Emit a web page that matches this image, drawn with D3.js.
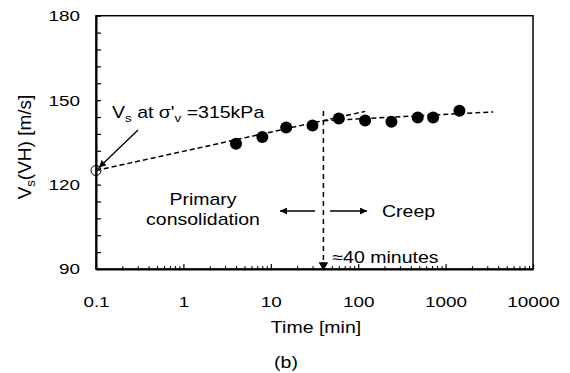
<!DOCTYPE html>
<html>
<head>
<meta charset="utf-8">
<script src="https://cdn.jsdelivr.net/npm/d3@7"></script>
<style>
  body { margin: 0; background: #fff; }
  svg text { font-family: "Liberation Sans", Arial, sans-serif; fill: #000; }
</style>
</head>
<body>
<svg id="chart"></svg>
<script>
// measured shear wave velocity vs elapsed time
const timeMin = [4, 8, 15, 30, 60, 120, 240, 480, 720, 1440];
const vsVH = [134.5, 136.9, 140.3, 141.0, 143.5, 142.8, 142.3, 143.8, 143.8, 146.2];
// Vs at sigma'v = 315 kPa (open circle)
const initialTime = [0.1];
const initialVs = [125];
// fitted dashed lines
const primaryFitT = [0.1, 120];
const primaryFitV = [125, 146.0];
const creepFitT = [40, 3500];
const creepFitV = [142.7, 145.8];
const transitionT = 40;
const xTicks = [0.1, 1, 10, 100, 1000, 10000];
const yTicks = [90, 120, 150, 180];

const width = 570, height = 373;
const SX = 1.22; // the scanned figure is stretched sideways
const svg = d3.select("#chart").attr("width", width).attr("height", height);

const x = d3.scaleLog().domain([0.1, 10000]).range([96, 533]);
const y = d3.scaleLinear().domain([90, 180]).range([269, 15.7]);

function label(px, py, size, anchor) {
    return svg.append("g")
        .attr("transform", `translate(${px},${py}) scale(${SX},1)`)
        .append("text")
        .attr("font-size", size)
        .attr("text-anchor", anchor || "start");
}

const defs = svg.append("defs");
defs.append("marker")
    .attr("id", "arrow")
    .attr("viewBox", "0 0 10 10")
    .attr("refX", 10).attr("refY", 5)
    .attr("markerWidth", 9).attr("markerHeight", 7)
    .attr("markerUnits", "userSpaceOnUse")
    .attr("orient", "auto")
    .append("path").attr("d", "M0,0L10,5L0,10Z").attr("fill", "#000");

// frame (top + right)
svg.append("rect")
    .attr("x", x.range()[0]).attr("y", y.range()[1])
    .attr("width", x.range()[1] - x.range()[0])
    .attr("height", y.range()[0] - y.range()[1])
    .attr("fill", "none").attr("stroke", "#000").attr("stroke-width", 1.5);

// minor x ticks
const minorX = [];
for (let d = 0.1; d < 10000; d *= 10) {
    for (let k = 2; k <= 9; k++) minorX.push(d * k);
}
svg.append("g")
    .attr("transform", `translate(0,${y(90)})`)
    .call(d3.axisBottom(x).tickValues(minorX).tickSize(-3).tickFormat(""))
    .call(g => g.select(".domain").remove())
    .call(g => g.selectAll("line").attr("stroke-width", 1));

svg.append("g")
    .attr("transform", `translate(0,${y(90)})`)
    .call(d3.axisBottom(x).tickValues(xTicks).tickSize(-5).tickSizeOuter(0).tickPadding(27)
        .tickFormat(d => d < 1 ? "0.1" : d3.format("d")(d)))
    .call(g => g.select(".domain").attr("stroke-width", 2))
    .call(g => g.selectAll("line").attr("stroke-width", 1.2))
    .call(g => g.selectAll("text").attr("font-size", 15.5).attr("transform", `scale(${SX},1)`));

// y axis
svg.append("g")
    .attr("transform", `translate(${x(0.1)},0)`)
    .call(d3.axisLeft(y).tickValues(d3.range(90, 181, 6)).tickSize(-5).tickSizeOuter(0).tickFormat(""))
    .call(g => g.select(".domain").remove())
    .call(g => g.selectAll("line").attr("stroke-width", 1.2));

svg.append("g")
    .attr("transform", `translate(${x(0.1)},0)`)
    .call(d3.axisLeft(y).tickValues(yTicks).tickSize(0).tickSizeOuter(0).tickPadding(16 / SX))
    .call(g => g.select(".domain").attr("stroke-width", 2))
    .call(g => g.selectAll("text").attr("font-size", 15.5).attr("transform", `scale(${SX},1)`));

// axis titles
const yTitle = svg.append("g")
    .attr("transform", `translate(31,147) rotate(-90)`)
    .append("text")
    .attr("text-anchor", "middle")
    .attr("font-size", 19);
yTitle.append("tspan").text("V");
yTitle.append("tspan").attr("font-size", 13).attr("dy", 4).text("s");
yTitle.append("tspan").attr("dy", -4).text("(VH) [m/s]");

label(316, 333, 16, "middle").text("Time [min]");
label(286, 368, 16, "middle").text("(b)");

// fitted lines
const line = d3.line().x(d => x(d[0])).y(d => y(d[1]));
svg.append("path")
    .datum(primaryFitT.map((t, i) => [t, primaryFitV[i]]))
    .attr("d", line)
    .attr("fill", "none").attr("stroke", "#000")
    .attr("stroke-width", 1.5).attr("stroke-dasharray", "5,3");
svg.append("path")
    .datum(creepFitT.map((t, i) => [t, creepFitV[i]]))
    .attr("d", line)
    .attr("fill", "none").attr("stroke", "#000")
    .attr("stroke-width", 1.5).attr("stroke-dasharray", "5,3");

// transition marker at ~40 minutes
svg.append("line")
    .attr("x1", x(transitionT)).attr("x2", x(transitionT))
    .attr("y1", y(146.1)).attr("y2", y(90) - 7)
    .attr("stroke", "#000").attr("stroke-width", 1.5)
    .attr("stroke-dasharray", "5,4");
svg.append("path")
    .attr("d", d3.symbol(d3.symbolTriangle, 40))
    .attr("transform", `translate(${x(transitionT)},${y(90) - 4}) rotate(180)`)
    .attr("fill", "#000");
label(x(transitionT) + 9, y(90) - 6, 16).text("\u224840 minutes");

// data points
svg.selectAll(".pt")
    .data(timeMin.map((t, i) => [t, vsVH[i]]))
    .join("circle")
    .attr("class", "pt")
    .attr("cx", d => x(d[0]))
    .attr("cy", d => y(d[1]))
    .attr("r", 6)
    .attr("fill", "#000");

svg.selectAll(".init")
    .data(initialTime.map((t, i) => [t, initialVs[i]]))
    .join("circle")
    .attr("class", "init")
    .attr("cx", d => x(d[0]))
    .attr("cy", d => y(d[1]))
    .attr("r", 5)
    .attr("fill", "none").attr("stroke", "#000").attr("stroke-width", 1);

// annotation for initial value
const ann = label(112, 118, 16);
ann.append("tspan").text("V");
ann.append("tspan").attr("font-size", 11).attr("dy", 4).text("s");
ann.append("tspan").attr("dy", -4).text(" at \u03c3'");
ann.append("tspan").attr("font-size", 11).attr("dy", 4).text("v");
ann.append("tspan").attr("dy", -4).text(" =315kPa");

svg.append("line")
    .attr("x1", 138).attr("y1", 130)
    .attr("x2", x(initialTime[0]) + 3).attr("y2", y(initialVs[0]) - 3)
    .attr("stroke", "#000").attr("stroke-width", 1.3)
    .attr("marker-end", "url(#arrow)");

// phase labels
label(203, 205, 16, "middle").text("Primary");
label(203, 225, 16, "middle").text("consolidation");
svg.append("line")
    .attr("x1", 315).attr("y1", 211).attr("x2", 280).attr("y2", 211)
    .attr("stroke", "#000").attr("stroke-width", 1.5)
    .attr("marker-end", "url(#arrow)");
svg.append("line")
    .attr("x1", 330).attr("y1", 211).attr("x2", 367).attr("y2", 211)
    .attr("stroke", "#000").attr("stroke-width", 1.5)
    .attr("marker-end", "url(#arrow)");
label(382, 217, 16).text("Creep");
</script>
</body>
</html>
